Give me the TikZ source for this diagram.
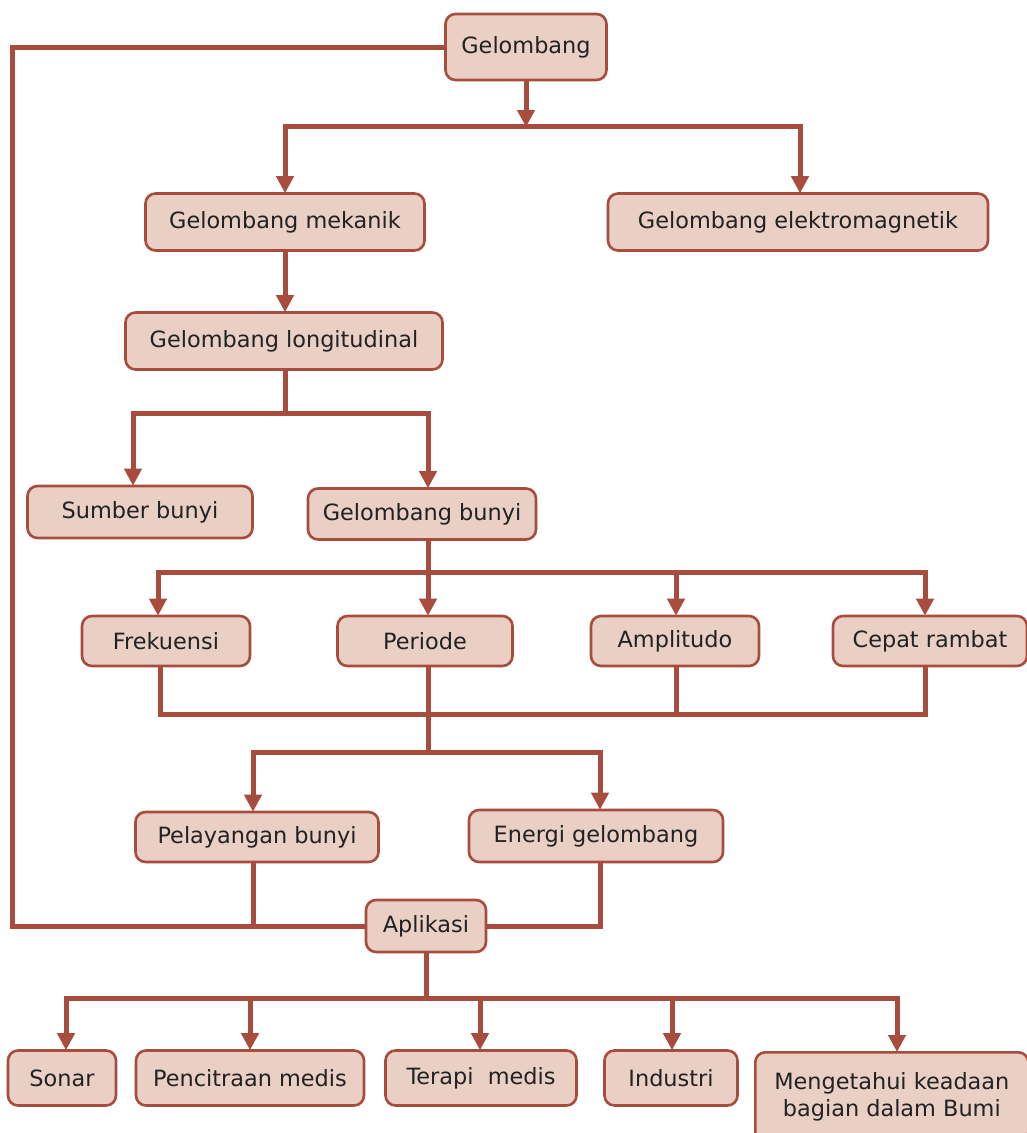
\documentclass[tikz,border=0pt]{standalone}
\usepackage{fontspec}
\setmainfont{DejaVu Sans}
\usetikzlibrary{arrows.meta}
\definecolor{edge}{HTML}{A84C3D}
\definecolor{boxfill}{HTML}{E9CFC4}
\definecolor{txt}{HTML}{222222}
\tikzset{
  box/.style={draw=edge, line width=2.6pt, fill=boxfill, rounded corners=10pt, inner sep=0pt, align=center, text=txt, font=\fontsize{22.4}{27}\selectfont},
  con/.style={draw=edge, line width=5pt},
  arr/.style={con, -{Triangle[width=17pt,length=17pt]}, shorten >=-1pt}
}
\begin{document}
\begin{tikzpicture}[x=1pt,y=-1pt]
\useasboundingbox (0,0) rectangle (1027,1133);
% nodes
\node[box, minimum width=161, minimum height=66] (g) at (526,47) {Gelombang};
\node[box, minimum width=279, minimum height=57] (mek) at (285,222) {Gelombang mekanik};
\node[box, minimum width=380, minimum height=57] (ele) at (798,222) {Gelombang elektromagnetik};
\node[box, minimum width=317, minimum height=57] (lon) at (284,341) {Gelombang longitudinal};
\node[box, minimum width=225, minimum height=52] (sum) at (140,512) {Sumber bunyi};
\node[box, minimum width=228, minimum height=51] (bun) at (422,514) {Gelombang bunyi};
\node[box, minimum width=168, minimum height=50] (fre) at (166,641) {Frekuensi};
\node[box, minimum width=175, minimum height=50] (per) at (425,641) {Periode};
\node[box, minimum width=168, minimum height=50] (amp) at (675,641) {Amplitudo};
\node[box, minimum width=194, minimum height=50] (cep) at (930,641) {Cepat rambat};
\node[box, minimum width=243, minimum height=50] (pel) at (257,837) {Pelayangan bunyi};
\node[box, minimum width=254, minimum height=52] (ene) at (596,836) {Energi gelombang};
\node[box, minimum width=120, minimum height=52] (apl) at (426,926) {Aplikasi};
\node[box, minimum width=108, minimum height=55] (son) at (62,1078) {Sonar};
\node[box, minimum width=228, minimum height=55] (pen) at (250,1078) {Pencitraan medis};
\node[box, minimum width=191, minimum height=55] (ter) at (481,1078) {Terapi\ \ medis};
\node[box, minimum width=133, minimum height=55] (ind) at (671,1078) {Industri};
\node[box, minimum width=273, minimum height=90, anchor=north west] (men) at (754,1051) {Mengetahui keadaan\\bagian dalam Bumi};
% junction coordinates
\coordinate (j1) at (526,126);
\coordinate (j1a) at (285,126);
\coordinate (j1b) at (800,126);
\coordinate (j2) at (285,413);
\coordinate (j2a) at (133,413);
\coordinate (j2b) at (428,413);
\coordinate (j3) at (428,572);
\coordinate (j3a) at (158,572);
\coordinate (j3b) at (428,572);
\coordinate (j3c) at (676,572);
\coordinate (j3d) at (925,572);
\coordinate (j4a) at (160,714);
\coordinate (j4b) at (428,714);
\coordinate (j4c) at (676,714);
\coordinate (j4d) at (925,714);
\coordinate (j5) at (428,752);
\coordinate (j5a) at (253,752);
\coordinate (j5b) at (600,752);
\coordinate (k1) at (12,47);
\coordinate (k2) at (12,926);
\coordinate (k3) at (253,926);
\coordinate (k4) at (600,926);
\coordinate (j6) at (426,998);
\coordinate (j6a) at (66,998);
\coordinate (j6b) at (250,998);
\coordinate (j6c) at (480,998);
\coordinate (j6d) at (672,998);
\coordinate (j6e) at (897,998);
% connectors
\draw[arr] (g.south) -- (j1);
\draw[con, line cap=rect] (j1a) -- (j1b);
\draw[arr] (j1a) -- (j1a |- mek.north);
\draw[arr] (j1b) -- (j1b |- ele.north);
\draw[arr] (mek.south) -- (mek.south |- lon.north);
\draw[con] (lon.south -| j2) -- (j2);
\draw[con, line cap=rect] (j2a) -- (j2b);
\draw[arr] (j2a) -- (j2a |- sum.north);
\draw[arr] (j2b) -- (j2b |- bun.north);
\draw[con] (bun.south -| j3) -- (j3);
\draw[con, line cap=rect] (j3a) -- (j3d);
\draw[arr] (j3a) -- (j3a |- fre.north);
\draw[arr] (j3b) -- (j3b |- per.north);
\draw[arr] (j3c) -- (j3c |- amp.north);
\draw[arr] (j3d) -- (j3d |- cep.north);
\draw[con] (fre.south -| j4a) -- (j4a);
\draw[con] (per.south -| j4b) -- (j4b);
\draw[con] (amp.south -| j4c) -- (j4c);
\draw[con] (cep.south -| j4d) -- (j4d);
\draw[con, line cap=rect] (j4a) -- (j4d);
\draw[con] (j4b) -- (j5);
\draw[con, line cap=rect] (j5a) -- (j5b);
\draw[arr] (j5a) -- (j5a |- pel.north);
\draw[arr] (j5b) -- (j5b |- ene.north);
\draw[con, line join=miter] (g.west) -- (k1) -- (k2) -- (apl.west);
\draw[con] (pel.south -| k3) -- (k3);
\draw[con, line join=miter] (ene.south -| k4) -- (k4) -- (apl.east);
\draw[con] (apl.south) -- (j6);
\draw[con, line cap=rect] (j6a) -- (j6e);
\draw[arr] (j6a) -- (j6a |- son.north);
\draw[arr] (j6b) -- (j6b |- pen.north);
\draw[arr] (j6c) -- (j6c |- ter.north);
\draw[arr] (j6d) -- (j6d |- ind.north);
\draw[arr] (j6e) -- (j6e |- men.north);
\end{tikzpicture}
\end{document}
